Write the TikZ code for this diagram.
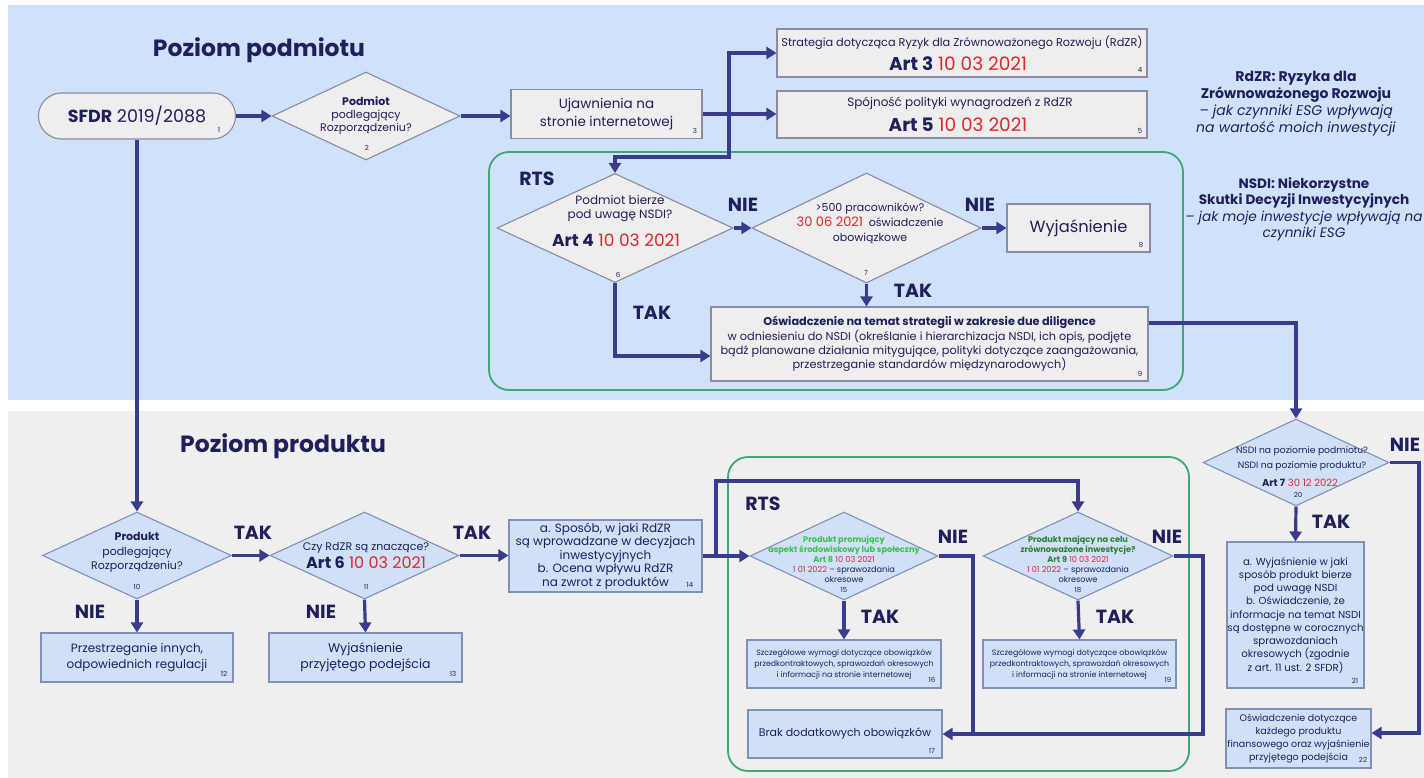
\documentclass[tikz,border=0pt]{standalone}
\usepackage{fontspec}
\setmainfont{Poppins}
\usetikzlibrary{shapes.geometric,arrows.meta}
\definecolor{bgblue}{HTML}{CFE2F9}
\definecolor{bggrey}{HTML}{EFEFEF}
\definecolor{navy}{HTML}{1F1F5A}
\definecolor{linec}{HTML}{3B3B8E}
\definecolor{redc}{HTML}{E0262B}
\definecolor{greenf}{HTML}{3DA876}
\definecolor{nodegrey}{HTML}{EEEEEE}
\definecolor{nodeblue}{HTML}{CFE0F7}
\definecolor{bordergrey}{HTML}{8A8AA0}
\definecolor{borderblue}{HTML}{8090B8}
\definecolor{greenA}{HTML}{3DBE4E}
\definecolor{greenB}{HTML}{2D7F2E}
\tikzset{
 arr/.style={draw=linec, line width=3.2pt, -{Triangle[length=10pt,width=12pt]}},
 ln/.style={draw=linec, line width=3.2pt},
 gbox/.style={draw=bordergrey, fill=nodegrey, line width=1.1pt, inner sep=0pt, align=center, text=navy},
 bbox/.style={draw=borderblue, fill=nodeblue, line width=1.1pt, inner sep=0pt, align=center, text=navy},
 gdia/.style={diamond, draw=bordergrey, fill=nodegrey, line width=1.1pt, inner sep=0pt},
 bdia/.style={diamond, draw=borderblue, fill=nodeblue, line width=1.1pt, inner sep=0pt},
 txt/.style={inner sep=0pt, align=center, text=navy},
 num/.style={inner sep=0pt, text=navy, font=\fontsize{7}{8}\selectfont},
 lab/.style={inner sep=0pt, text=navy, font=\bfseries\fontsize{19}{21}\selectfont},
 ttl/.style={inner sep=0pt, text=navy, font=\bfseries\fontsize{23.5}{26}\selectfont},
 rtsframe/.style={draw=greenf, line width=1.8pt, rounded corners=20pt},
}
\begin{document}
\begin{tikzpicture}[x=1pt,y=-1pt]
\useasboundingbox (0,0) rectangle (1424,778);
\fill[white] (0,0) rectangle (1424,778);
\fill[bgblue] (8,5) rectangle (1424,400);
\fill[bggrey] (8,411) rectangle (1424,778);

% titles
\node[ttl] (tt1) at (259,50) {Poziom podmiotu};
\node[ttl] (tt2) at (283,446) {Poziom produktu};

% legend
\node[txt, font=\fontsize{14}{17}\selectfont] (leg1) at (1296,103.5)
 {\textbf{RdZR: Ryzyka dla}\\\textbf{Zrównoważonego Rozwoju}\\\textit{– jak czynniki ESG wpływają}\\\textit{na wartość moich inwestycji}};
\node[txt, font=\fontsize{13.6}{16.5}\selectfont] (leg2) at (1304,209.5)
 {\textbf{NSDI: Niekorzystne}\\\textbf{Skutki Decyzji Inwestycyjnych}\\\textit{– jak moje inwestycje wpływają na}\\\textit{czynniki ESG}};

% RTS frames
\draw[rtsframe] (489,152) rectangle (1183,390);
\draw[rtsframe] (728,457) rectangle (1189,771);
\node[lab] (rts1) at (537,179) {RTS};
\node[lab] (rts2) at (763,504) {RTS};

% ---- top level nodes
\node[gbox, rounded corners=23pt, minimum width=197pt, minimum height=46pt, font=\fontsize{17.5}{20}\selectfont] (n1) at (137,116) {\textbf{SFDR} 2019/2088};
\node[num] (k1) at (219,130) {1};

\node[gdia, minimum width=188pt, minimum height=88pt] (d2) at (366,116) {};
\node[txt, font=\fontsize{11}{13}\selectfont] (t2) at (366,116) {\textbf{Podmiot}\\podlegający\\Rozporządzeniu?};
\node[num] (k2) at (367,148) {2};

\node[gbox, minimum width=191pt, minimum height=49pt, font=\fontsize{13.5}{18}\selectfont] (n3) at (606.5,114) {Ujawnienia na\\stronie internetowej};
\node[num] (k3) at (695,131) {3};

\node[gbox, minimum width=370pt, minimum height=48pt] (n4) at (962,53) {};
\node[txt, font=\fontsize{11.3}{14}\selectfont] (t4a) at (962,43) {Strategia dotycząca Ryzyk dla Zrównoważonego Rozwoju (RdZR)};
\node[txt, font=\fontsize{18.5}{20}\selectfont] (t4b) at (958,64) {\textbf{Art 3} \textcolor{redc}{10 03 2021}};
\node[num] (k4) at (1140,70) {4};

\node[gbox, minimum width=370pt, minimum height=47pt] (n5) at (962,114.5) {};
\node[txt, font=\fontsize{12}{14}\selectfont] (t5a) at (960,103) {Spójność polityki wynagrodzeń z RdZR};
\node[txt, font=\fontsize{18.5}{20}\selectfont] (t5b) at (958,125) {\textbf{Art 5} \textcolor{redc}{10 03 2021}};
\node[num] (k5) at (1140,131) {5};

\node[gdia, minimum width=236pt, minimum height=109pt] (d6) at (615,228) {};
\node[txt, font=\fontsize{12}{13.5}\selectfont] (t6a) at (620,208.5) {Podmiot bierze\\pod uwagę NSDI?};
\node[txt, font=\fontsize{17}{19}\selectfont] (t6b) at (616,240) {\textbf{Art 4} \textcolor{redc}{10 03 2021}};
\node[num] (k6) at (618,275) {6};

\node[gdia, minimum width=229pt, minimum height=110pt] (d7) at (866.5,228) {};
\node[txt, font=\fontsize{11}{15}\selectfont] (t7) at (870,223)
 {>500 pracowników?\\{\fontsize{13}{15}\selectfont\textcolor{redc}{30 06 2021}}\ \ oświadczenie\\obowiązkowe};
\node[num] (k7) at (866,273) {7};

\node[gbox, minimum width=143pt, minimum height=48pt, font=\fontsize{16.3}{20}\selectfont] (n8) at (1078.5,228) {Wyjaśnienie};
\node[num] (k8) at (1141,245) {8};

\node[gbox, minimum width=437pt, minimum height=74pt, font=\fontsize{11.3}{14.3}\selectfont] (n9) at (929.5,344)
 {\textbf{Oświadczenie na temat strategii w zakresie due diligence}\\w odniesieniu do NSDI (określanie i hierarchizacja NSDI, ich opis, podjęte\\bądź planowane działania mitygujące, polityki dotyczące zaangażowania,\\przestrzeganie standardów międzynarodowych)};
\node[num] (k9) at (1140,374) {9};

% top connectors
\coordinate (j1) at (729,114);
\coordinate (j2) at (729,157);
\draw[arr] (n1.east) -- (d2.west);
\draw[arr] (d2.east) -- (d2.east -| n3.west);
\draw[arr] (n3.east) -- (n3.east -| n5.west);
\draw[arr] (j1) |- (n4.west);
\draw[arr] (j1) -- (j2) -| (d6.north);
\draw[arr] (d6.east) -- (d7.west);
\draw[arr] (d7.east) -- (n8.west);
\draw[arr] (d7.south) -- (d7.south |- n9.north);
\draw[arr] (d6.south) |- ([yshift=-12pt]n9.west);
\node[lab] (l67) at (743,205) {NIE};
\node[lab] (l78) at (980,205) {NIE};
\node[lab] (l79) at (913,291) {TAK};
\node[lab] (l69) at (652,313) {TAK};

% ---- product level
\node[bdia, minimum width=189pt, minimum height=87pt] (d10) at (137,555.5) {};
\node[txt, font=\fontsize{11}{14.5}\selectfont] (t10) at (137,552.5) {\textbf{Produkt}\\podlegający\\Rozporządzeniu?};
\node[num] (k10) at (137,587) {10};

\node[bbox, minimum width=192pt, minimum height=49pt, font=\fontsize{12}{16}\selectfont] (n12) at (137,657.5) {Przestrzeganie innych,\\odpowiednich regulacji};
\node[num] (k12) at (224,674) {12};

\node[bdia, minimum width=189pt, minimum height=87pt] (d11) at (364.5,555.5) {};
\node[txt, font=\fontsize{11}{13}\selectfont] (t11a) at (366,548) {Czy RdZR są znaczące?};
\node[txt, font=\fontsize{16}{17}\selectfont] (t11b) at (366,563) {\textbf{Art 6} \textcolor{redc}{10 03 2021}};
\node[num] (k11) at (366,587) {11};

\node[bbox, minimum width=193pt, minimum height=49pt, font=\fontsize{12.5}{16}\selectfont] (n13) at (365.5,657.5) {Wyjaśnienie\\przyjętego podejścia};
\node[num] (k13) at (453,674) {13};

\node[bbox, minimum width=193pt, minimum height=72pt, font=\fontsize{12}{13.5}\selectfont] (n14) at (605.5,556) {a. Sposób, w jaki RdZR\\są wprowadzane w decyzjach\\inwestycyjnych\\b. Ocena wpływu RdZR\\na zwrot z produktów};
\node[num] (k14) at (690,585) {14};

\node[bdia, minimum width=188pt, minimum height=88pt] (d15) at (844,556) {};
\node[txt, font=\fontsize{8.2}{10}\selectfont] (t15) at (844,559)
 {\textcolor{greenA}{\textbf{Produkt promujący}}\\\textcolor{greenA}{\textbf{aspekt środowiskowy lub społeczny}}\\\textcolor{greenA}{\textbf{Art 8}} \textcolor{redc}{10 03 2021}\\\textcolor{redc}{1 01 2022} – sprawozdania\\okresowe};
\node[num] (k15) at (844,589.5) {15};

\node[bdia, minimum width=190pt, minimum height=88pt] (d18) at (1078,556) {};
\node[txt, font=\fontsize{8.2}{10}\selectfont] (t18) at (1078,559)
 {\textcolor{greenB}{\textbf{Produkt mający na celu}}\\\textcolor{greenB}{\textbf{zrównoważone inwestycje?}}\\\textcolor{greenB}{\textbf{Art 9}} \textcolor{redc}{10 03 2021}\\\textcolor{redc}{1 01 2022} – sprawozdania\\okresowe};
\node[num] (k18) at (1078,589.5) {18};

\node[bbox, minimum width=194pt, minimum height=48pt, font=\fontsize{7.8}{11}\selectfont] (n16) at (844,664) {Szczegółowe wymogi dotyczące obowiązków\\przedkontraktowych, sprawozdań okresowych\\i informacji na stronie internetowej};
\node[num] (k16) at (932,680) {16};

\node[bbox, minimum width=194pt, minimum height=48pt, font=\fontsize{11}{15}\selectfont] (n17) at (845,734) {Brak dodatkowych obowiązków};
\node[num] (k17) at (932,751) {17};

\node[bbox, minimum width=193pt, minimum height=48pt, font=\fontsize{7.8}{11}\selectfont] (n19) at (1079.5,664) {Szczegółowe wymogi dotyczące obowiązków\\przedkontraktowych, sprawozdań okresowych\\i informacji na stronie internetowej};
\node[num] (k19) at (1168,680) {19};

\node[bdia, minimum width=186pt, minimum height=87pt] (d20) at (1296,462.5) {};
\node[txt, font=\fontsize{9.2}{15}\selectfont] (t20a) at (1302,458.5) {NSDI na poziomie podmiotu?\\NSDI na poziomie produktu?};
\node[txt, font=\fontsize{10}{12}\selectfont] (t20b) at (1300,483) {\textbf{Art 7} \textcolor{redc}{30 12 2022}};
\node[num] (k20) at (1298,495) {20};

\node[bbox, minimum width=137pt, minimum height=146pt, font=\fontsize{10.2}{13.25}\selectfont] (n21) at (1295.5,615)
 {a. Wyjaśnienie w jaki\\sposób produkt bierze\\pod uwagę NSDI\\b. Oświadczenie, że\\informacje na temat NSDI\\są dostępne w corocznych\\sprawozdaniach\\okresowych (zgodnie\\z art. 11 ust. 2 SFDR)};
\node[num] (k21) at (1355,681) {21};

\node[bbox, minimum width=145pt, minimum height=59pt, font=\fontsize{9.5}{13}\selectfont] (n22) at (1298.5,738.5)
 {Oświadczenie dotyczące\\każdego produktu\\finansowego oraz wyjaśnienie\\przyjętego podejścia};
\node[num] (k22) at (1363,760) {22};

% product connectors
\coordinate (j3) at (716,556);
\coordinate (j4) at (716,481);
\coordinate (j5) at (973,734);
\coordinate (j6) at (1203,734);
\coordinate (j7) at (1419,733);
\draw[arr] (n1.south) -- (d10.north);
\draw[arr] (d10.south) -- (n12.north);
\draw[arr] (d10.east) -- (d11.west);
\draw[arr] (d11.south) -- (n13.north);
\draw[arr] (d11.east) -- (d11.east -| n14.west);
\draw[arr] (n14.east) -- (n14.east -| d15.west);
\draw[arr] (j3) -- (j4) -| (d18.north);
\draw[arr] (d15.south) -- (n16.north);
\draw[arr] (d18.south) -- (n19.north);
\draw[ln] (d15.east) -| (j5);
\draw[arr] (d18.east) -| (j6) -- (j6 -| n17.east);
\draw[arr] ([yshift=21pt]n9.east) -| (d20.north);
\draw[arr] (d20.south) -- (n21.north);
\draw[arr] (d20.east) -| (j7) -- (j7 -| n22.east);

\node[lab] (l1012) at (90,612) {NIE};
\node[lab] (l1011) at (253,533) {TAK};
\node[lab] (l1113) at (321,612) {NIE};
\node[lab] (l1114) at (472,533) {TAK};
\node[lab] (l1517) at (953,537) {NIE};
\node[lab] (l1516) at (880,617) {TAK};
\node[lab] (l1817) at (1167,537) {NIE};
\node[lab] (l1819) at (1115,617) {TAK};
\node[lab] (l2021) at (1331,522) {TAK};
\node[lab] (l2022) at (1405,445) {NIE};
\end{tikzpicture}
\end{document}
